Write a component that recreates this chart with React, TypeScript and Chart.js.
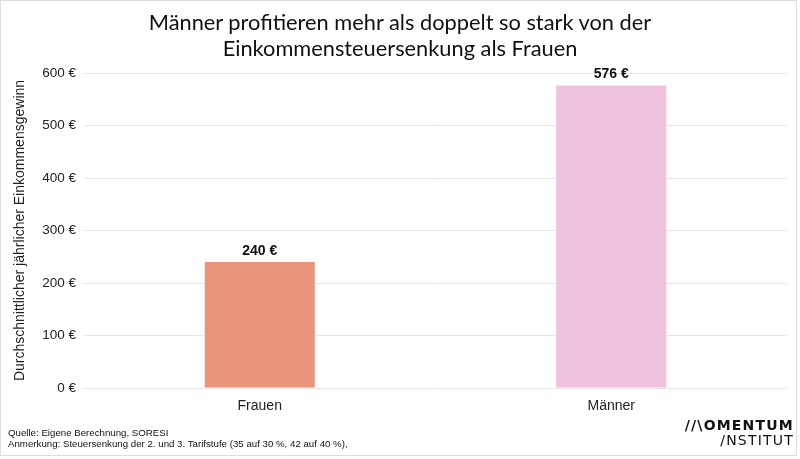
import React, { useEffect, useRef } from "react";
import { Chart, registerables } from "chart.js";

Chart.register(...registerables);

const categories = ["Frauen", "Männer"];
const values = [240, 576];
const valueLabels = ["240 €", "576 €"];
const barColors = ["#EC937B", "#F0C2DF"];
const titleLines = [
  "Männer profitieren mehr als doppelt so stark von der",
  "Einkommensteuersenkung als Frauen",
];
const yAxisTitle = "Durchschnittlicher jährlicher Einkommensgewinn";
const footerLines = [
  "Quelle: Eigene Berechnung, SORESI",
  "Anmerkung: Steuersenkung der 2. und 3. Tarifstufe (35 auf 30 %, 42 auf 40 %),",
];

const valueLabelPlugin = {
  id: "valueLabels",
  afterDatasetsDraw(chart: any) {
    const ctx = chart.ctx;
    const meta = chart.getDatasetMeta(0);
    ctx.save();
    ctx.font = "bold 14px 'Liberation Sans', Arial, sans-serif";
    ctx.fillStyle = "#111";
    ctx.textAlign = "center";
    ctx.textBaseline = "middle";
    meta.data.forEach((bar: any, i: number) => {
      ctx.fillText(valueLabels[i], bar.x, bar.y - 11);
    });
    ctx.restore();
  },
};

export default function App() {
  const ref = useRef<HTMLCanvasElement>(null);
  useEffect(() => {
    const chart = new Chart(ref.current!, {
      type: "bar",
      data: {
        labels: categories,
        datasets: [
          {
            data: values,
            backgroundColor: barColors,
            barPercentage: 0.62,
            categoryPercentage: 0.505,
          },
        ],
      },
      options: {
        animation: false,
        responsive: false,
        maintainAspectRatio: false,
        layout: { padding: { top: 73, left: 8, right: 13, bottom: 41 } },
        plugins: { legend: { display: false }, title: { display: false }, tooltip: { enabled: false } },
        scales: {
          x: {
            grid: { display: false, drawTicks: false },
            border: { display: false },
            ticks: {
              padding: 10,
              color: "#222",
              font: { family: "'Liberation Sans', Arial, sans-serif", size: 14 },
            },
            afterFit(scale: any) {
              scale.height = 30;
            },
          },
          y: {
            min: 0,
            max: 600,
            grid: { color: "#E6E6E6", drawTicks: false },
            border: { display: false },
            ticks: {
              stepSize: 100,
              padding: 8,
              color: "#222",
              font: { family: "'Liberation Sans', Arial, sans-serif", size: 13.5 },
              callback: (v: any) => v + " €",
            },
            title: {
              display: true,
              text: yAxisTitle,
              color: "#222",
              padding: { top: 4, bottom: 4 },
              font: { family: "'Liberation Sans', Arial, sans-serif", size: 14 },
            },
            afterFit(scale: any) {
              scale.width = 76;
            },
          },
        },
      },
      plugins: [valueLabelPlugin],
    });
    return () => chart.destroy();
  }, []);

  return (
    <div style={{ position: "fixed", left: 0, top: 0, width: 800, height: 459, background: "#fff" }}>
      <div
        style={{
          position: "absolute",
          left: 0,
          top: 0,
          width: 795,
          height: 454,
          border: "1px solid #DDDDDD",
        }}
      />
      <canvas ref={ref} width={800} height={459} style={{ position: "absolute", left: 0, top: 0 }} />
      <div
        style={{
          position: "absolute",
          left: 0,
          top: 9,
          width: 800,
          textAlign: "center",
          fontFamily: "Lato, 'Noto Sans', sans-serif",
          fontSize: 21.8,
          lineHeight: "26px",
          color: "#111",
        }}
      >
        {titleLines.map((l, i) => (
          <div key={i}>{l}</div>
        ))}
      </div>
      <div
        style={{
          position: "absolute",
          left: 8,
          top: 426.5,
          fontFamily: "'Liberation Sans', Arial, sans-serif",
          fontSize: 9.7,
          lineHeight: "11.5px",
          color: "#111",
        }}
      >
        {footerLines.map((l, i) => (
          <div key={i}>{l}</div>
        ))}
      </div>
      <div
        style={{
          position: "absolute",
          right: 6,
          top: 418,
          textAlign: "right",
          fontFamily: "'DejaVu Sans', sans-serif",
          color: "#111",
          fontSize: 14,
          lineHeight: "15px",
          letterSpacing: 1.2,
        }}
      >
        <div style={{ fontWeight: 700 }}>//\OMENTUM</div>
        <div>/NSTITUT</div>
      </div>
    </div>
  );
}
